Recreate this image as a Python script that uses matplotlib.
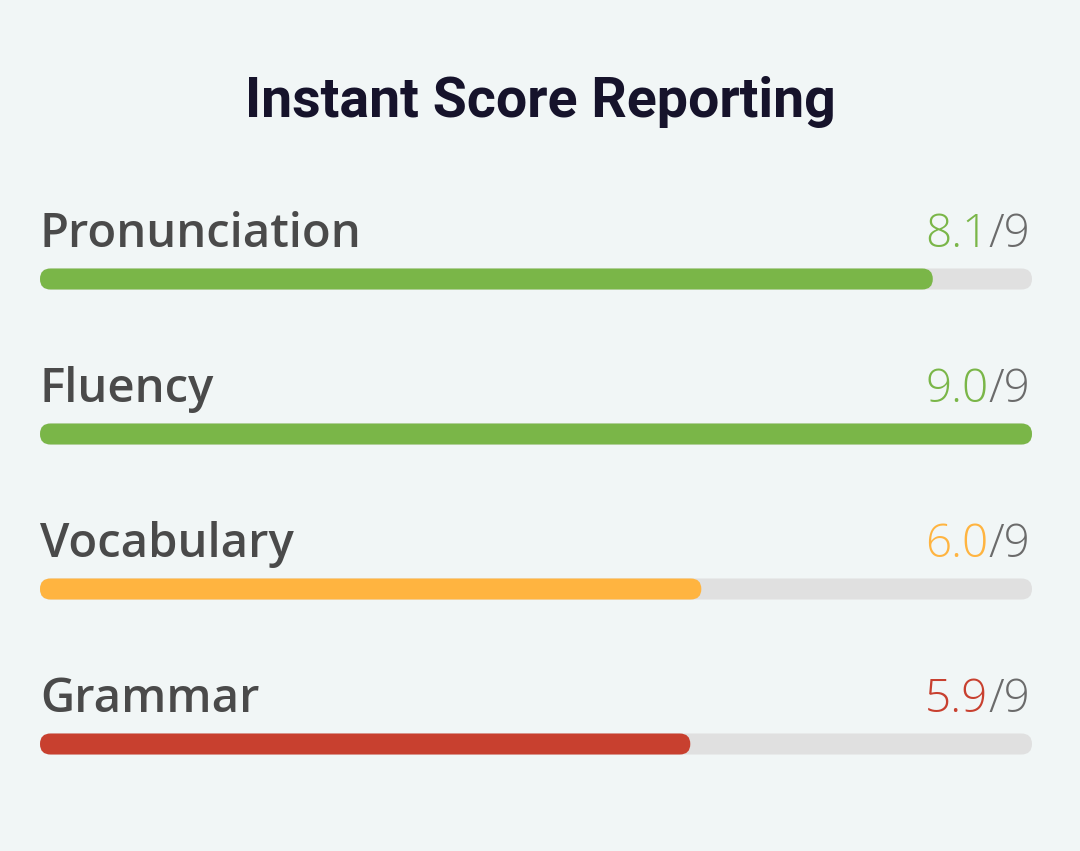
import matplotlib
matplotlib.use("Agg")
import matplotlib.pyplot as plt
from matplotlib.patches import FancyBboxPatch

# ---- data ----
title = "Instant Score Reporting"
categories = ["Pronunciation", "Fluency", "Vocabulary", "Grammar"]
scores = [8.1, 9.0, 6.0, 5.9]
max_score = 9
bar_colors = ["#7ab648", "#7ab648", "#ffb440", "#c8402f"]

BG = "#f1f6f6"
TRACK = "#e0e0e0"
LABEL_C = "#4a4a4a"
SLASH_C = "#6b6b6b"

W, H, DPI = 1080, 851, 100
fig = plt.figure(figsize=(W / DPI, H / DPI), dpi=DPI, facecolor=BG)

# axes spanning the bar area; row centres sit on the bar centres
left_px, right_px = 40, 1032
top_px, bot_px = 279, 744
ax = fig.add_axes([left_px / W, 1 - bot_px / H, (right_px - left_px) / W, (bot_px - top_px) / H])
ax.set_facecolor("none")
ax.set_xlim(0, max_score)
ax.set_ylim(len(categories) - 1, 0)
ax.axis("off")

bar_px = 21.0
sx = (right_px - left_px) / max_score              # px per x unit
sy = (bot_px - top_px) / (len(categories) - 1)     # px per y unit
bar_h = bar_px / sy                                  # bar height in y units
r_x = (bar_px / 2) / sx                              # rounding in x units
aspect = sx / sy


def rounded_bar(x0, width, yc, color, z):
    p = FancyBboxPatch((x0, yc - bar_h / 2), width, bar_h,
                       boxstyle=f"round,pad=0,rounding_size={r_x}",
                       mutation_aspect=aspect, facecolor=color, edgecolor="none",
                       clip_on=False, zorder=z)
    ax.add_patch(p)


for i, (cat, val, col) in enumerate(zip(categories, scores, bar_colors)):
    rounded_bar(0, max_score, i, TRACK, 1)
    rounded_bar(0, val, i, col, 2)
    ax.annotate(cat, xy=(0, i), xytext=(0, 32), textcoords="offset pixels",
                ha="left", va="baseline", fontsize=34, fontfamily="Open Sans",
                fontweight="semibold", color=LABEL_C)
    slash = ax.annotate(f"/{max_score}", xy=(max_score, i), xytext=(-2, 32), textcoords="offset pixels",
                        ha="right", va="baseline", fontsize=33, fontfamily="Open Sans",
                        fontweight="light", color=SLASH_C)
    ax.annotate(f"{val:.1f}", xy=(0, 0), xycoords=slash, xytext=(0, 0), textcoords="offset pixels",
                ha="right", va="bottom", fontsize=33, fontfamily="Open Sans",
                fontweight="light", color=col)

fig.text(0.5, 1 - 117 / H, title, ha="center", va="baseline", fontsize=40,
         fontfamily="Roboto", fontweight="bold", color="#16132b")

fig.savefig("out.png", dpi=DPI, facecolor=BG)
